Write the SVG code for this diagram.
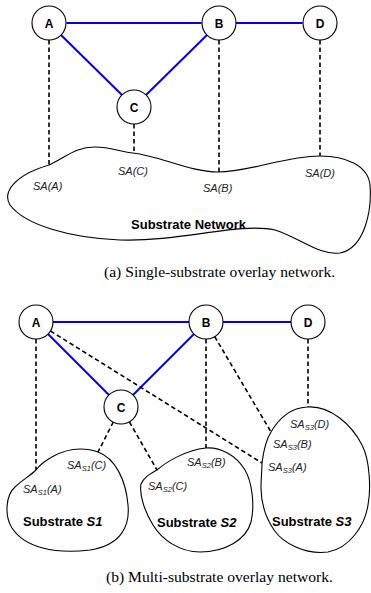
<svg xmlns="http://www.w3.org/2000/svg" width="371" height="593" viewBox="0 0 371 593">
<style>
.blue{stroke:#0000ee;stroke-width:2;fill:none}
.dash{stroke:#000;stroke-width:1.6;stroke-dasharray:4.5,3;fill:none}
.node circle{fill:#fff;stroke:#000;stroke-width:1.1}
.node text{font-family:"Liberation Sans",Arial,sans-serif;font-weight:bold;font-size:12px;text-anchor:middle;fill:#000}
.blob{fill:#fff;stroke:#000;stroke-width:1.1}
.sa{font-family:"Liberation Sans",Arial,sans-serif;font-style:italic;font-size:11px;fill:#222}
.sub{font-size:7.5px}
.sn{font-family:"Liberation Sans",Arial,sans-serif;font-weight:bold;font-size:13px;fill:#000}
.cap{font-family:"Liberation Serif","Times New Roman",serif;font-size:15.6px;fill:#000}
</style>
<rect width="371" height="593" fill="#fff"/>

<!-- (a) -->
<g id="substrate-network">
<path class="blob" d="M49,165 C65,158 75,147 95,147 C110,147 122,152 133,153 C160,156 190,172 218,172 C250,172 285,156 320,156 C345,156 368,165 370,185 C372,210 365,248 340,253 C320,256 300,238 275,230 C240,222 180,242 120,240 C70,238 25,225 10,205 C2,192 15,175 49,165 Z"/>
<text class="sa" x="33" y="190">SA(A)</text>
<text class="sa" x="118" y="175">SA(C)</text>
<text class="sa" x="203" y="192">SA(B)</text>
<text class="sa" x="305" y="177">SA(D)</text>
<text class="sn" x="188.5" y="229" text-anchor="middle">Substrate Network</text>
</g>

<g id="connectors-a">
<line class="blue" x1="66.5" y1="23" x2="201.5" y2="23"/>
<line class="blue" x1="236" y1="23" x2="302.5" y2="23"/>
<line class="blue" x1="61" y1="35" x2="122" y2="95"/>
<line class="blue" x1="207" y1="35" x2="146" y2="95"/>
<line class="dash" x1="49" y1="40" x2="49" y2="165"/>
<line class="dash" x1="134" y1="124" x2="134" y2="153"/>
<line class="dash" x1="219" y1="40" x2="219" y2="172"/>
<line class="dash" x1="320" y1="40" x2="320" y2="156"/>
</g>

<g id="a-node-A" class="node"><circle cx="49" cy="23" r="17"/><text x="49" y="27.5">A</text></g>
<g id="a-node-B" class="node"><circle cx="219" cy="23" r="17"/><text x="219" y="27.5">B</text></g>
<g id="a-node-D" class="node"><circle cx="320" cy="23" r="17"/><text x="320" y="27.5">D</text></g>
<g id="a-node-C" class="node"><circle cx="134" cy="107" r="17"/><text x="134" y="111.5">C</text></g>

<text id="caption-a" class="cap" x="104" y="277">(a)  Single-substrate overlay network.</text>

<!-- (b) -->
<g id="substrate-S1">
<path class="blob" d="M36,470 C42,462 60,449 80,449 C88,449 93,450 98,452 C115,458 126,480 128,505 C130,525 122,545 90,550 C55,554 25,548 12,528 C4,515 6,495 15,487 C22,480 30,476 36,470 Z"/>
<text class="sa" x="67" y="469">SA<tspan class="sub" dy="2">S1</tspan><tspan dy="-2">(C)</tspan></text>
<text class="sa" x="23" y="493">SA<tspan class="sub" dy="2">S1</tspan><tspan dy="-2">(A)</tspan></text>
<text class="sn" x="23" y="526">Substrate <tspan font-style="italic">S1</tspan></text>
</g>

<g id="substrate-S2">
<path class="blob" d="M157,470 C165,463 185,450 206,448 C220,447 236,455 245,470 C252,482 255,505 251,522 C246,540 225,552 200,552 C180,552 162,540 153,525 C145,512 139,495 141,484 C144,477 150,474 157,470 Z"/>
<text class="sa" x="187" y="466">SA<tspan class="sub" dy="2">S2</tspan><tspan dy="-2">(B)</tspan></text>
<text class="sa" x="148" y="490">SA<tspan class="sub" dy="2">S2</tspan><tspan dy="-2">(C)</tspan></text>
<text class="sn" x="157" y="527">Substrate <tspan font-style="italic">S2</tspan></text>
</g>

<g id="substrate-S3">
<path class="blob" d="M307,407 C330,405 352,425 362,445 C370,460 371,490 368,505 C365,525 350,548 328,552 C305,555 283,543 274,530 C264,515 261,500 261,488 C261,478 262,470 262,463 C263,455 266,440 271,432 C278,420 290,408 307,407 Z"/>
<text class="sa" x="290" y="428">SA<tspan class="sub" dy="2">S3</tspan><tspan dy="-2">(D)</tspan></text>
<text class="sa" x="273" y="448">SA<tspan class="sub" dy="2">S3</tspan><tspan dy="-2">(B)</tspan></text>
<text class="sa" x="268" y="471">SA<tspan class="sub" dy="2">S3</tspan><tspan dy="-2">(A)</tspan></text>
<text class="sn" x="272" y="526">Substrate <tspan font-style="italic">S3</tspan></text>
</g>

<g id="connectors-b">
<line class="blue" x1="53" y1="322" x2="189" y2="322"/>
<line class="blue" x1="223" y1="322" x2="291" y2="322"/>
<line class="blue" x1="48" y1="334" x2="109" y2="395"/>
<line class="blue" x1="194" y1="334" x2="133" y2="395"/>
<line class="dash" x1="36" y1="339" x2="36" y2="470"/>
<line class="dash" x1="50.5" y1="331" x2="262" y2="463"/>
<line class="dash" x1="113.3" y1="422" x2="98" y2="452"/>
<line class="dash" x1="129.4" y1="422" x2="157" y2="470"/>
<line class="dash" x1="206" y1="339" x2="206" y2="448"/>
<line class="dash" x1="214.7" y1="336.6" x2="271" y2="432"/>
<line class="dash" x1="308" y1="339" x2="308" y2="407"/>
</g>

<g id="b-node-A" class="node"><circle cx="36" cy="322" r="17"/><text x="36" y="326.5">A</text></g>
<g id="b-node-B" class="node"><circle cx="206" cy="322" r="17"/><text x="206" y="326.5">B</text></g>
<g id="b-node-D" class="node"><circle cx="308" cy="322" r="17"/><text x="308" y="326.5">D</text></g>
<g id="b-node-C" class="node"><circle cx="121" cy="407" r="17"/><text x="121" y="411.5">C</text></g>

<text id="caption-b" class="cap" x="106" y="582">(b)  Multi-substrate overlay network.</text>
</svg>
